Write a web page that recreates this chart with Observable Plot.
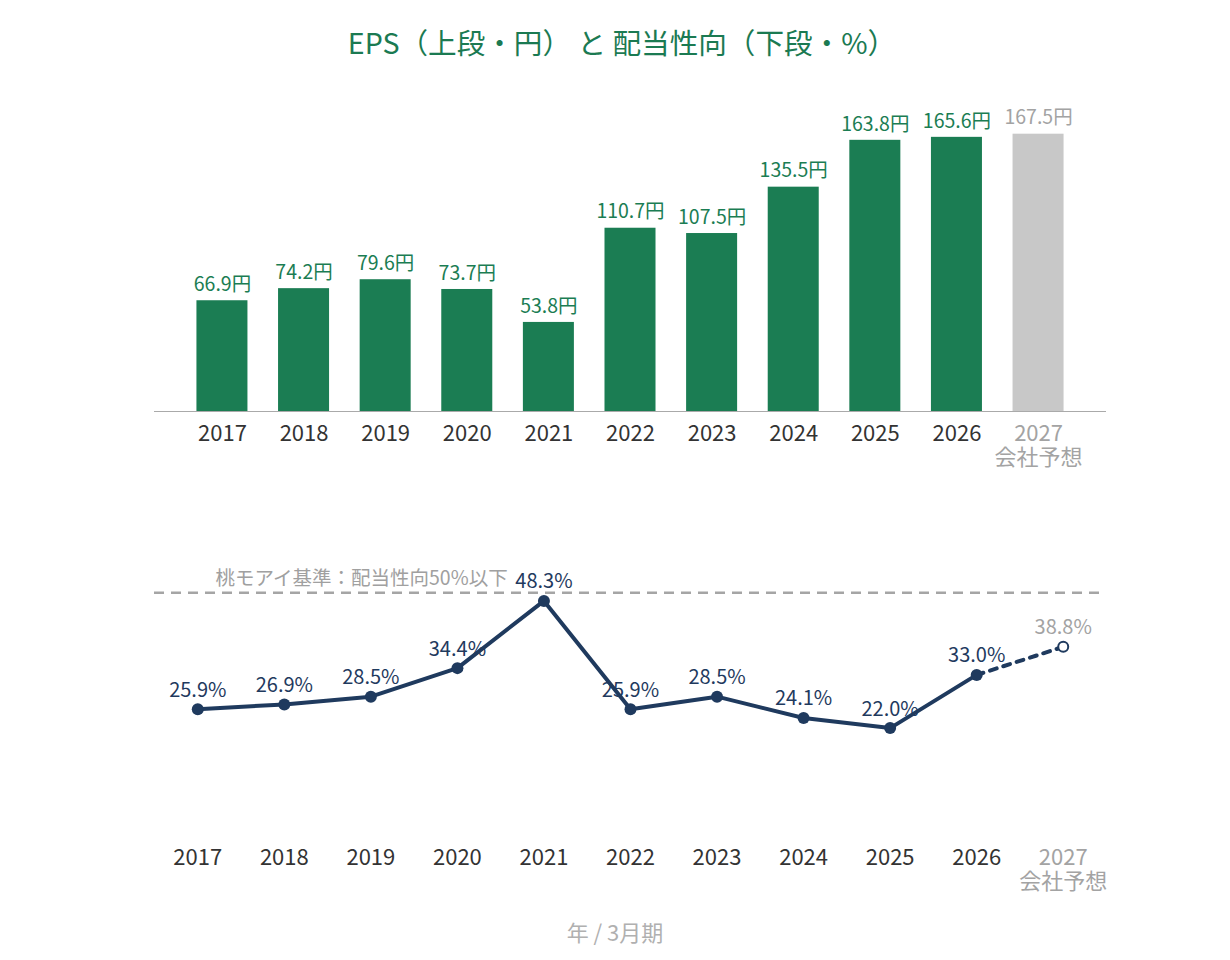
<!DOCTYPE html>
<html><head><meta charset="utf-8">
<script src="https://cdn.jsdelivr.net/npm/d3@7"></script>
<script src="https://cdn.jsdelivr.net/npm/@observablehq/plot@0.6"></script>
<style>
body{margin:0;background:#fff;font-family:"Noto Sans CJK JP","Noto Sans",sans-serif;}
#wrap{position:relative;width:1230px;height:960px;}
#title{position:absolute;left:0;width:1244px;top:22px;text-align:center;font-size:28.6px;color:#1b7a52;line-height:40px;}
#top{position:absolute;left:0;top:70px;}
#bottom{position:absolute;left:0;top:540px;}
#caption{position:absolute;left:0;width:1230px;top:915px;text-align:center;font-size:22px;color:#b0b0b0;line-height:32px;}
svg text{font-family:"Noto Sans CJK JP","Noto Sans",sans-serif;}
</style></head>
<body><div id="wrap">
<div id="title">EPS（上段・円） と 配当性向（下段・%）</div>
<div id="top"></div>
<div id="bottom"></div>
<div id="caption">年 / 3月期</div>
</div>
<script>
const years = ["2017","2018","2019","2020","2021","2022","2023","2024","2025","2026","2027"];
const eps = [66.9,74.2,79.6,73.7,53.8,110.7,107.5,135.5,163.8,165.6,167.5];
const payout = [25.9,26.9,28.5,34.4,48.3,25.9,28.5,24.1,22.0,33.0,38.8];
const forecastYear = "2027";
const tickLabels = years.map(y => y === forecastYear ? y + "\n会社予想" : y);
const refValue = 50;
const refLabel = "桃モアイ基準：配当性向50%以下";

const GREEN = "#1b7d53", GRAY_BAR = "#c8c8c8", NAVY = "#1f3a5e", LGRAY = "#a3a3a3", TICK = "#333";

const epsData = years.map((y,i) => ({year:y, v:eps[i], label:tickLabels[i], fc: y===forecastYear}));
const payData = years.map((y,i) => ({year:y, v:payout[i], label:tickLabels[i], fc: y===forecastYear}));

const topPlot = Plot.plot({
  width: 1230, height: 410,
  marginLeft: 154, marginRight: 124, marginTop: 43, marginBottom: 69,
  x: {domain: years, paddingInner: 0.375, paddingOuter: 0.52, round: false, axis: null},
  y: {domain: [0, 180], axis: null},
  marks: [
    Plot.barY(epsData, {x:"year", y:"v", fill: d => d.fc ? GRAY_BAR : GREEN}),
    Plot.ruleY([0], {stroke:"#aaa", strokeWidth:1}),
    Plot.text(epsData, {x:"year", y:"v", text: d => d.v.toFixed(1) + "円", dy:-16, fontSize:19.5, fill: d => d.fc ? LGRAY : GREEN}),
    Plot.text(epsData, {x:"year", text:"label", frameAnchor:"bottom", lineAnchor:"top", dy:13, fontSize:22, lineHeight:1.08, fill: d => d.fc ? LGRAY : TICK})
  ]
});
document.getElementById("top").appendChild(topPlot);

const actual = payData.filter(d => !d.fc);
const lastTwo = payData.slice(-2);
const botPlot = Plot.plot({
  width: 1230, height: 370,
  marginLeft: 154, marginRight: 124, marginTop: 28, marginBottom: 76,
  x: {type:"point", domain: years, padding: 0.5, round: false, axis: null},
  y: {domain: [0, 55], axis: null},
  marks: [
    Plot.ruleY([refValue], {stroke:"#a5a5a5", strokeWidth:2.5, strokeDasharray:"10,7"}),
    Plot.text([refValue], {y: d => d, text: [refLabel], frameAnchor:"left", textAnchor:"start", dx:61, dy:-14, fontSize:19.5, fill:"#a0a0a0"}),
    Plot.line(actual, {x:"year", y:"v", stroke:NAVY, strokeWidth:4}),
    Plot.line(lastTwo, {x:"year", y:"v", stroke:NAVY, strokeWidth:4, strokeDasharray:"7,7"}),
    Plot.dot(actual, {x:"year", y:"v", r:6, fill:NAVY}),
    Plot.dot(payData.filter(d => d.fc), {x:"year", y:"v", r:5, fill:"#fff", stroke:NAVY, strokeWidth:2}),
    Plot.text(payData, {x:"year", y:"v", text: d => d.v.toFixed(1) + "%", dy:-19, fontSize:20, fill: d => d.fc ? LGRAY : NAVY}),
    Plot.text(payData, {x:"year", text:"label", frameAnchor:"bottom", lineAnchor:"top", dy:14, fontSize:22, lineHeight:1.08, fill: d => d.fc ? LGRAY : TICK})
  ]
});
document.getElementById("bottom").appendChild(botPlot);
</script>
</body></html>
